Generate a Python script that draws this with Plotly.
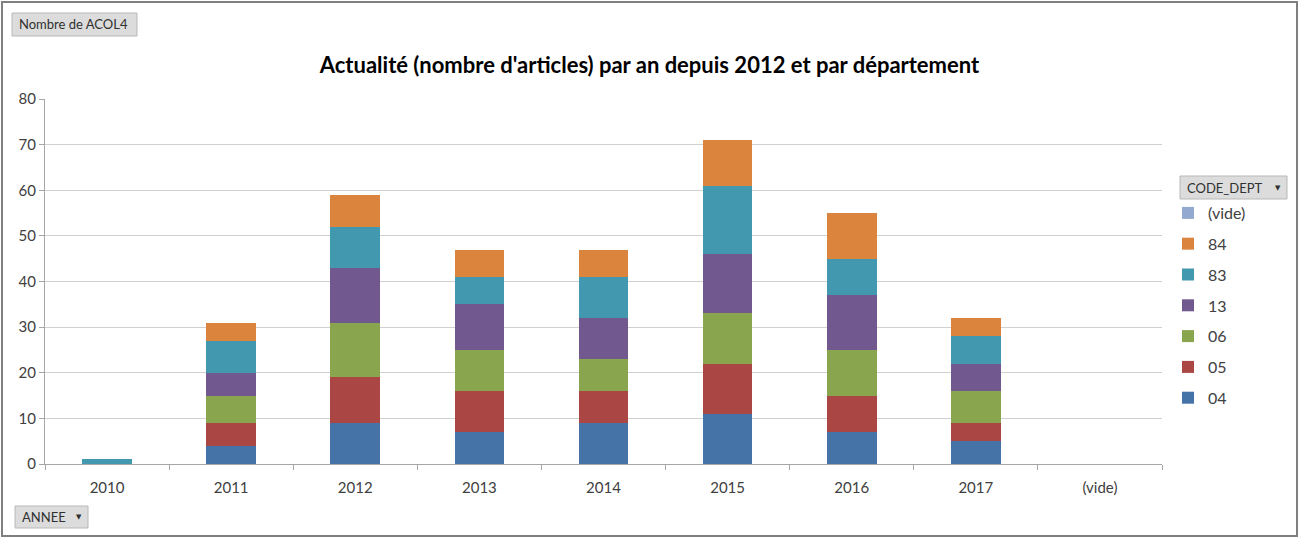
import plotly.graph_objects as go

years = ["2010", "2011", "2012", "2013", "2014", "2015", "2016", "2017", "(vide)"]
depts = ["04", "05", "06", "13", "83", "84", "(vide)"]
v04 = [None, 4, 9, 7, 9, 11, 7, 5, None]
v05 = [None, 5, 10, 9, 7, 11, 8, 4, None]
v06 = [None, 6, 12, 9, 7, 11, 10, 7, None]
v13 = [None, 5, 12, 10, 9, 13, 12, 6, None]
v83 = [1, 7, 9, 6, 9, 15, 8, 6, None]
v84 = [None, 4, 7, 6, 6, 10, 10, 4, None]
vvide = [None] * 9
series = [v04, v05, v06, v13, v83, v84, vvide]
colors = ["#4572A7", "#AA4643", "#89A54E", "#71588F", "#4198AF", "#DB843D", "#93A9CF"]

W, H = 1299, 538
L, R, T, B = 45, 1162, 99, 464

def px(x):
    return (x - L) / (R - L)

def py(y):
    return (B - y) / (B - T)

fig = go.Figure()
n = len(depts)
for i, (name, vals, col) in enumerate(zip(depts, series, colors)):
    fig.add_trace(go.Bar(
        x=years, y=vals, name=name, marker=dict(color=col, line=dict(width=0)),
        legendgroup=str(i), legendrank=n - i,
    ))

font = "Lato, 'Open Sans', sans-serif"
fig.update_layout(
    width=W, height=H,
    margin=dict(l=L, r=W - R, t=T, b=H - B),
    barmode="stack", bargap=0.6,
    plot_bgcolor="white", paper_bgcolor="white",
    font=dict(family=font, size=15, color="#404040"),
    title=dict(text="<b>Actualité (nombre d'articles) par an depuis 2012 et par département</b>",
               x=0.5, xanchor="center", y=1 - 65 / H, yanchor="middle",
               font=dict(family=font, size=22, color="#000000")),
    showlegend=True,
    legend=dict(x=px(1168), y=py(196), xanchor="left", yanchor="top",
                traceorder="grouped", tracegroupgap=7,
                font=dict(family=font, size=16, color="#404040"),
                itemwidth=30, bgcolor="rgba(0,0,0,0)"),
)
fig.update_xaxes(type="category", categoryorder="array", categoryarray=years,
                 showgrid=False, showline=True, linecolor="#a6a6a6", linewidth=1,
                 ticks="outside", tickson="boundaries", ticklen=5, tickcolor="#a6a6a6",
                 ticklabelstandoff=10,
                 tickfont=dict(size=15, color="#404040"), fixedrange=True)
fig.update_yaxes(range=[0, 80], dtick=10, showgrid=True, gridcolor="#d0d0d0", gridwidth=1,
                 showline=True, linecolor="#a6a6a6", linewidth=1,
                 ticks="outside", ticklen=5, tickcolor="#a6a6a6",
                 tickfont=dict(size=15, color="#404040"), zeroline=False, fixedrange=True)

shapes = []
annotations = []
# outer border
shapes.append(dict(type="rect", xref="paper", yref="paper",
                   x0=px(2), x1=px(1297), y0=py(536), y1=py(2),
                   line=dict(color="#7f7f7f", width=2), fillcolor="rgba(0,0,0,0)", layer="below"))

def button(x0, y0, x1, y1, text, arrow=False):
    shapes.append(dict(type="rect", xref="paper", yref="paper",
                       x0=px(x0), x1=px(x1), y0=py(y1), y1=py(y0),
                       line=dict(color="#b8b8b8", width=1), fillcolor="#dcdcdc"))
    annotations.append(dict(xref="paper", yref="paper", x=px(x0 + 5), y=py((y0 + y1) / 2),
                            xanchor="left", yanchor="middle", showarrow=False,
                            text=text, font=dict(family=font, size=13, color="#303030")))
    if arrow:
        annotations.append(dict(xref="paper", yref="paper", x=px(x1 - 9), y=py((y0 + y1) / 2),
                                xanchor="center", yanchor="middle", showarrow=False,
                                text="▼", font=dict(family="DejaVu Sans", size=7, color="#303030")))

button(12, 13, 137, 36, "Nombre de ACOL4")
button(15, 506, 88, 528, "ANNEE", arrow=True)
button(1180, 176, 1287, 199, "CODE_DEPT", arrow=True)

fig.update_layout(shapes=shapes, annotations=annotations)
fig.write_html("out.html", config={"displayModeBar": False},
               post_script="document.body.style.margin='0';document.body.style.padding='0';")
